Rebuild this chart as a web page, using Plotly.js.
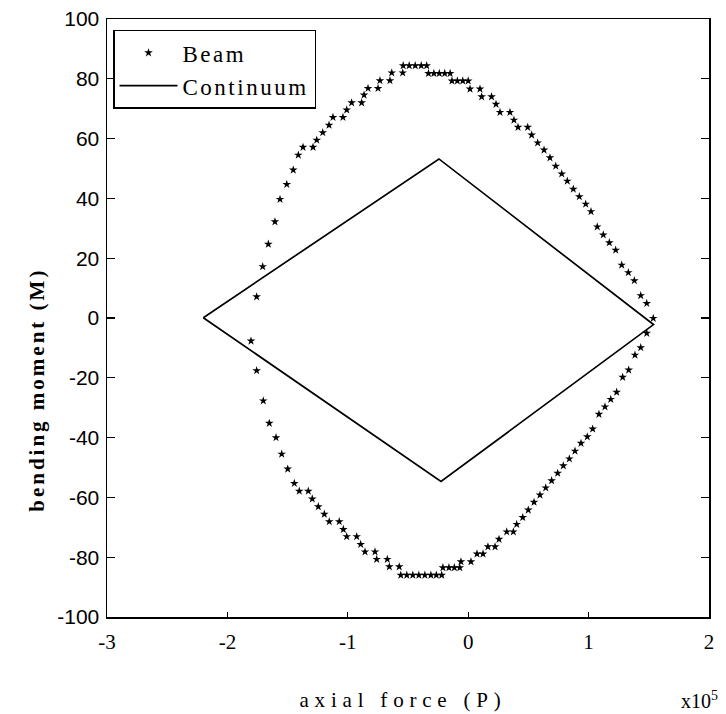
<!DOCTYPE html>
<html>
<head>
<meta charset="utf-8">
<script src="https://cdn.plot.ly/plotly-3.0.1.min.js"></script>
<style>
html,body{margin:0;padding:0;background:#fff;}
#chart{width:726px;height:714px;}
.legendtext{letter-spacing:2.5px;}
</style>
</head>
<body>
<div id="chart"></div>
<script>
// Beam interaction curve, upper branch (axial force x1e5, bending moment)
var beamUpperP = [-1.757,-1.707,-1.660,-1.605,-1.563,-1.507,-1.453,-1.411,-1.372,-1.289,-1.258,-1.208,-1.156,-1.123,-1.040,-1.009,-0.968,-0.885,-0.865,-0.832,-0.749,-0.733,-0.650,-0.635,-0.544,-0.540,-0.490,-0.440,-0.390,-0.345,-0.330,-0.285,-0.240,-0.195,-0.150,-0.135,-0.090,-0.045,0.000,0.015,0.098,0.112,0.194,0.231,0.264,0.347,0.380,0.414,0.494,0.527,0.577,0.630,0.679,0.727,0.777,0.823,0.873,0.923,0.976,1.020,1.072,1.122,1.172,1.225,1.275,1.330,1.380,1.433,1.483,1.537];
var beamUpperM = [7.1,17.2,24.7,32.2,39.7,44.7,49.5,54.5,57.1,57.1,59.5,62.0,64.5,67.1,67.1,69.6,72.0,72.0,74.6,76.8,76.8,79.4,79.4,82.0,82.0,84.4,84.4,84.4,84.4,84.4,81.8,81.8,81.8,81.8,81.8,79.3,79.3,79.3,79.3,76.6,76.6,74.0,74.0,71.5,68.8,68.8,66.2,63.8,63.8,61.2,58.6,56.2,53.6,50.8,48.2,45.8,43.1,40.6,38.1,35.6,30.5,27.8,25.2,22.7,17.7,15.2,12.5,7.5,4.9,-0.1];
// Beam interaction curve, lower branch
var beamLowerP = [-1.804,-1.757,-1.702,-1.652,-1.596,-1.549,-1.499,-1.444,-1.403,-1.328,-1.295,-1.245,-1.195,-1.154,-1.071,-1.037,-1.009,-0.926,-0.893,-0.857,-0.774,-0.760,-0.672,-0.655,-0.573,-0.560,-0.510,-0.460,-0.410,-0.360,-0.310,-0.265,-0.220,-0.210,-0.160,-0.115,-0.070,-0.060,0.023,0.073,0.123,0.164,0.223,0.256,0.320,0.375,0.403,0.453,0.499,0.547,0.596,0.644,0.693,0.743,0.790,0.840,0.887,0.937,0.989,1.034,1.086,1.136,1.184,1.233,1.283,1.333,1.385,1.433,1.483];
var beamLowerM = [-7.7,-17.6,-27.7,-35.2,-40.0,-45.5,-50.5,-55.3,-57.9,-57.9,-60.5,-63.1,-65.6,-68.1,-68.1,-70.7,-73.1,-73.1,-75.7,-78.2,-78.2,-80.7,-80.7,-83.2,-83.2,-86.0,-86.0,-86.0,-86.0,-86.0,-86.0,-86.0,-86.0,-83.5,-83.5,-83.5,-83.5,-81.5,-81.5,-78.9,-78.9,-76.5,-76.5,-74.0,-71.5,-71.5,-69.0,-66.7,-64.2,-61.6,-59.2,-56.8,-54.4,-51.9,-49.4,-47.1,-44.5,-41.9,-39.7,-37.1,-32.2,-29.7,-27.2,-24.8,-19.8,-17.4,-12.4,-9.9,-5.1];
// Continuum interaction diagram (closed diamond)
var contP = [-2.200,-0.243,1.539,-0.226,-2.200];
var contM = [0.1,53.2,-2.2,-54.7,0.1];

var xTickVals = [-3,-2,-1,0,1,2];
var xTickText = ['-3','-2','-1','0','1','2'];
var yTickVals = [-100,-80,-60,-40,-20,0,20,40,60,80,100];
var yTickText = ['-100','-80','-60','-40','-20','0','20','40','60','80','100'];

var serif = 'Liberation Serif';
var sans = 'Liberation Sans';

var traces = [
  {
    type: 'scatter', mode: 'markers', name: 'Beam',
    x: beamUpperP.concat(beamLowerP),
    y: beamUpperM.concat(beamLowerM),
    marker: {symbol: 'star', size: 6.5, color: '#000', line: {width: 0}}
  },
  {
    type: 'scatter', mode: 'lines', name: 'Continuum',
    x: contP, y: contM,
    line: {color: '#000', width: 1.7}
  }
];

var layout = {
  width: 726, height: 714,
  margin: {l: 107, r: 17, t: 19, b: 97},
  paper_bgcolor: '#fff', plot_bgcolor: '#fff',
  showlegend: true,
  legend: {
    x: 0.01, y: 0.982, xanchor: 'left', yanchor: 'top',
    bgcolor: '#fff', bordercolor: '#000', borderwidth: 1.5,
    font: {family: serif, size: 23, color: '#000'},
    itemwidth: 58, tracegroupgap: 0
  },
  xaxis: {
    range: [-3, 2], tickmode: 'array', tickvals: xTickVals, ticktext: xTickText,
    ticks: 'inside', ticklen: 5, tickwidth: 1.2, tickcolor: '#000',
    showline: true, linecolor: '#000', linewidth: 1.5, mirror: true,
    showgrid: false, zeroline: false,
    tickfont: {family: serif, size: 21, color: '#000'},
    ticklabelstandoff: 5
  },
  yaxis: {
    range: [-100, 100], tickmode: 'array', tickvals: yTickVals, ticktext: yTickText,
    ticks: 'inside', ticklen: 8, tickwidth: 1.2, tickcolor: '#000',
    showline: true, linecolor: '#000', linewidth: 1.5, mirror: 'ticks',
    showgrid: false, zeroline: false,
    tickfont: {family: sans, size: 21, color: '#000'},
    ticklabelstandoff: 2
  },
  annotations: [
    {text: 'axial force (P)', xref: 'paper', yref: 'paper', x: 0.492, y: -0.1388,
     xanchor: 'center', yanchor: 'middle', showarrow: false,
     font: {family: serif, size: 21, color: '#000'}},
    {text: 'x10<sup>5</sup>', xref: 'paper', yref: 'paper', x: 0.985, y: -0.1388,
     xanchor: 'center', yanchor: 'middle', showarrow: false,
     font: {family: serif, size: 20, color: '#000'}},
    {text: '<b>bending moment (M)</b>', xref: 'paper', yref: 'paper', x: -0.1163, y: 0.38,
     xanchor: 'center', yanchor: 'middle', showarrow: false, textangle: -90,
     font: {family: serif, size: 21, color: '#000'}}
  ]
};

Plotly.newPlot('chart', traces, layout, {staticPlot: true, displayModeBar: false}).then(function(){
  var texts = document.querySelectorAll('#chart text');
  texts.forEach(function(t){
    var c = t.textContent;
    if (c === 'axial force (P)') t.style.letterSpacing = '5.8px';
    if (c === 'bending moment (M)') t.style.letterSpacing = '3px';
  });
});
</script>
</body>
</html>
